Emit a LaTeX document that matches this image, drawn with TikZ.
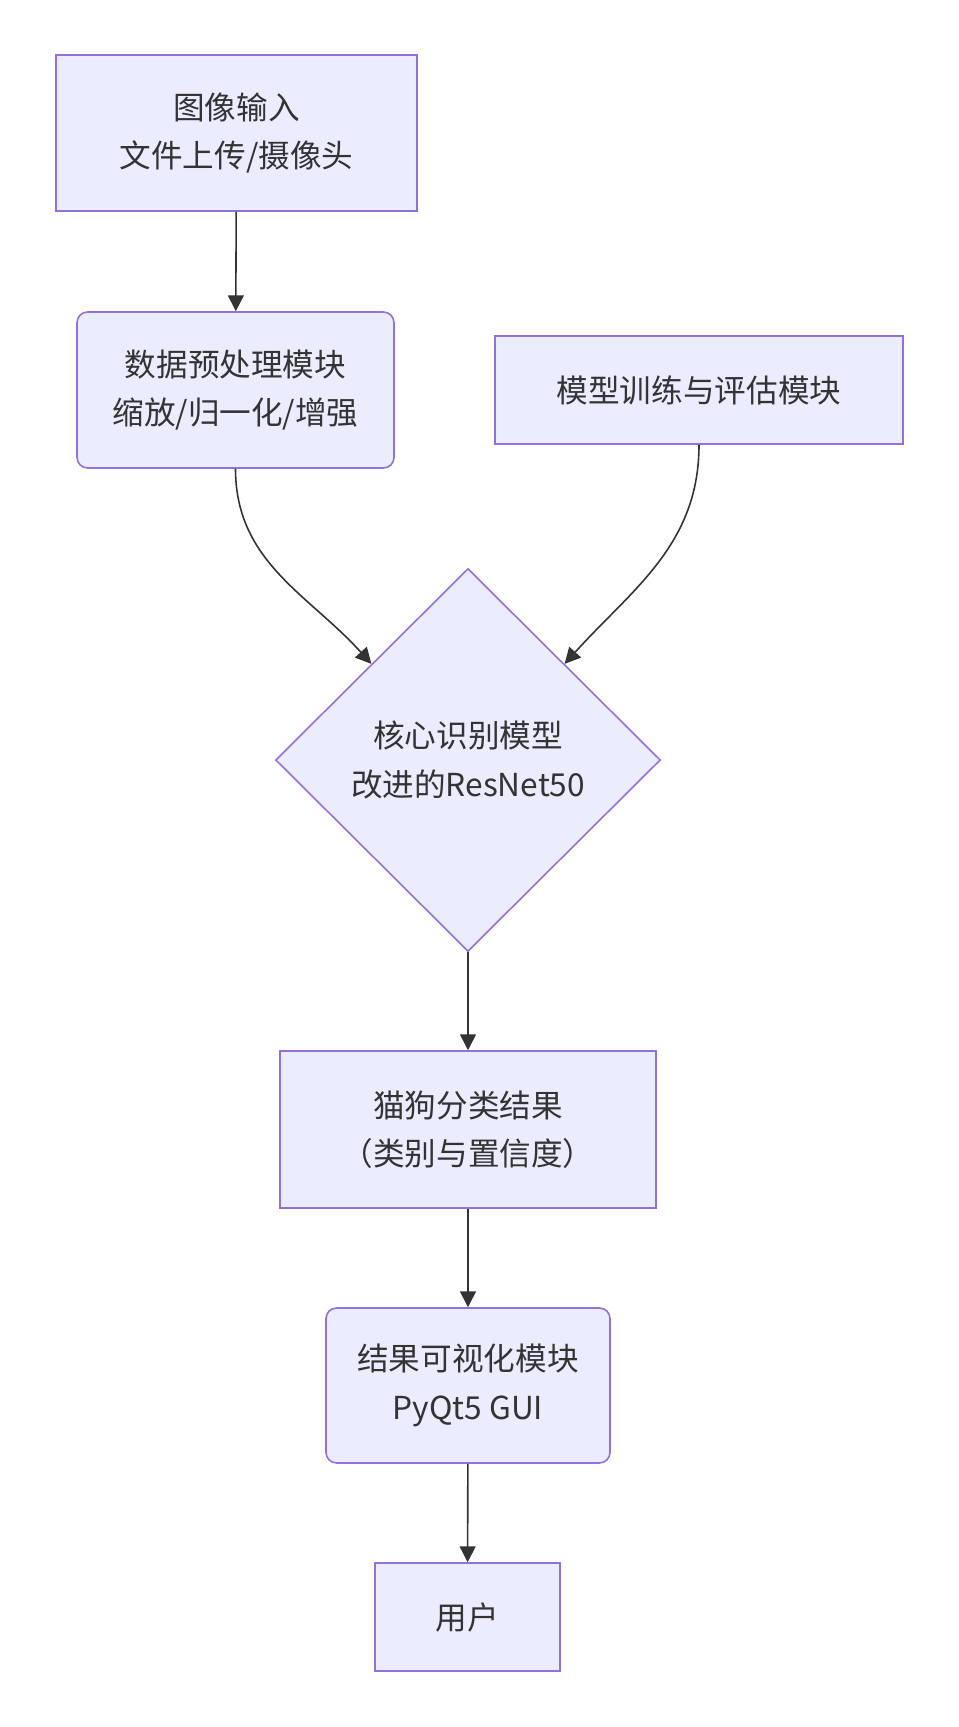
\documentclass[tikz,border=0pt]{standalone}
\usepackage{fontspec}
\setmainfont{Noto Sans CJK SC}
\usetikzlibrary{arrows.meta,shapes.geometric}
\definecolor{boxfill}{HTML}{ECECFF}
\definecolor{boxline}{HTML}{9370DB}
\definecolor{linkcol}{HTML}{333333}

\begin{document}
\begin{tikzpicture}[x=0.02cm, y=-0.02cm,
		box/.style={draw=boxline, fill=boxfill, line width=0.9pt, align=center,
			font=\fontsize{18}{27.5}\selectfont, text=linkcol, inner sep=0pt},
		rbox/.style={box, rounded corners=6pt},
		link/.style={draw=linkcol, line width=0.9pt, -{Triangle[length=9pt,width=9pt]}}]
			%%%%% START %%%%%
			\useasboundingbox (0, 0) rectangle (959, 1727);
			
			\node[box, minimum width=7.22cm, minimum height=3.12cm] (input) at (236.5, 133) {图像输入\\文件上传/摄像头};
			\node[rbox, minimum width=6.34cm, minimum height=3.12cm] (prep) at (235.5, 390) {数据预处理模块\\缩放/归一化/增强};
			\node[box, minimum width=8.16cm, minimum height=2.16cm] (train) at (699, 390) {模型训练与评估模块};
			
			\node[box, diamond, aspect=1, minimum width=7.7cm, minimum height=7.66cm] (core) at (468, 760) {核心识别模型\\改进的ResNet50};
			
			\node[box, minimum width=7.52cm, minimum height=3.14cm] (result) at (468, 1129.5) {猫狗分类结果\\（类别与置信度）};
			\node[rbox, minimum width=5.68cm, minimum height=3.10cm] (gui) at (468, 1385.5) {结果可视化模块\\PyQt5 GUI};
			\node[box, minimum width=3.70cm, minimum height=2.16cm] (user) at (467.5, 1617) {用户};
			
			\draw[link] (input) -- (prep);
			\draw[link] (prep.south) to[out=-90, in=132] (core.north west);
			\draw[link] (train.south) to[out=-90, in=48] (core.north east);
			\draw[link] (core) -- (result);
			\draw[link] (result) -- (gui);
			\draw[link] (gui) -- (user);
			%%%%% END %%%%%
\end{tikzpicture}
\end{document}
